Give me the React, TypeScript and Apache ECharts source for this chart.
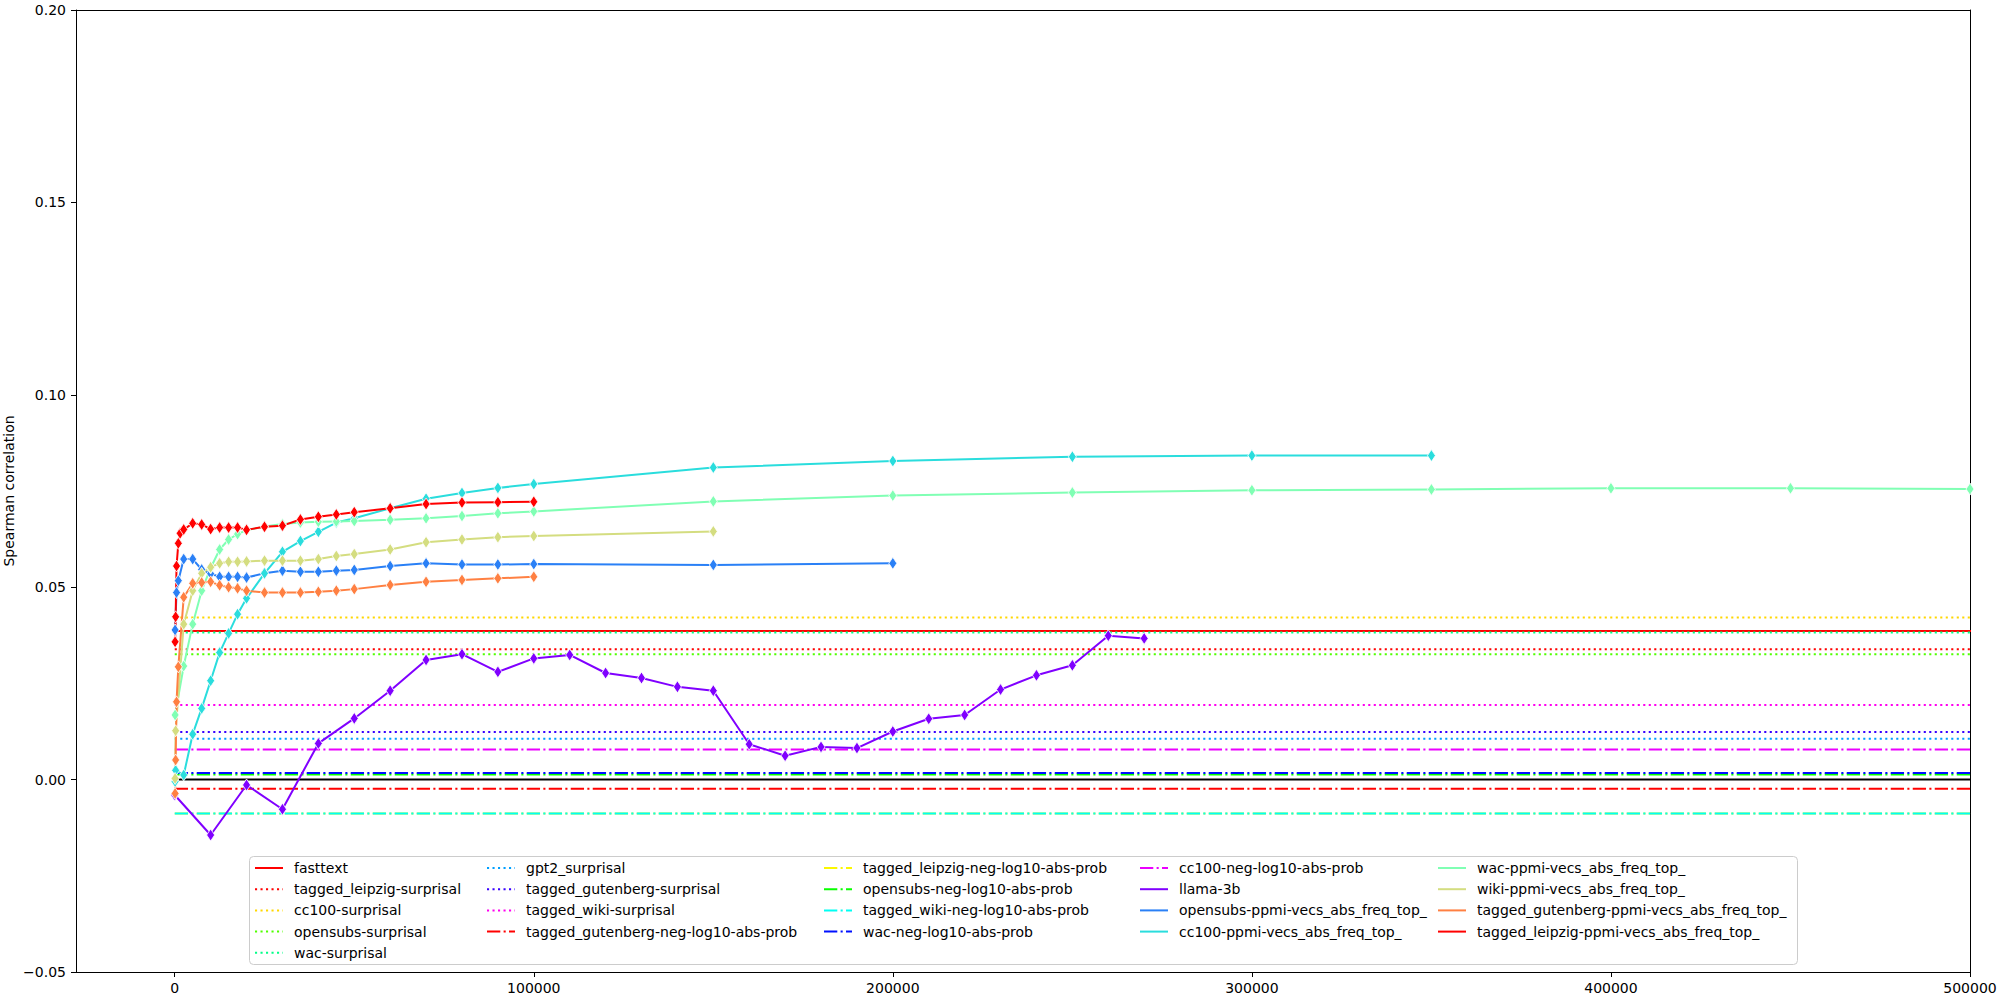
import React, { useEffect, useRef } from 'react';
import * as echarts from 'echarts';

// shared x grid for the ppmi series (null = no point at that x)
const X = [100, 250, 500, 1000, 1500, 2500, 5000, 7500, 10000, 12500, 15000, 17500, 20000, 25000, 30000, 35000, 40000, 45000, 50000, 60000, 70000, 80000, 90000, 100000, 150000, 200000, 250000, 300000, 350000, 400000, 450000, 500000, 550000];

const OPENSUBS_PPMI = [0.0389, null, 0.0486, 0.0517, null, 0.0573, 0.0573, 0.0546, 0.0535, 0.0527, 0.0527, 0.0527, 0.0525, 0.0536, 0.0543, 0.054, 0.054, 0.0543, 0.0545, 0.0555, 0.0562, 0.0559, 0.0559, 0.056, 0.0558, 0.0562, null, null, null, null, null, null, null];
const CC100_PPMI = [-0.0005, 0.0024, null, null, null, 0.0012, 0.0118, 0.0185, 0.0257, 0.033, 0.038, 0.043, 0.0471, 0.0536, 0.0592, 0.062, 0.0644, 0.0668, 0.0679, 0.0705, 0.073, 0.0745, 0.0758, 0.0768, 0.0811, 0.0828, 0.0839, 0.0842, 0.0842, null, null, null, null];
const WAC_PPMI = [0.0168, null, null, null, null, 0.0295, 0.0404, 0.0491, 0.055, 0.0598, 0.0624, 0.0638, 0.0648, 0.0658, 0.0664, 0.0668, 0.067, 0.0671, 0.0672, 0.0675, 0.0679, 0.0685, 0.0692, 0.0697, 0.0723, 0.0738, 0.0746, 0.0752, 0.0754, 0.0757, 0.0757, 0.0755, 0.0753];
const WIKI_PPMI = [0.0003, 0.0127, null, null, null, 0.0404, 0.0491, 0.0536, 0.0552, 0.0562, 0.0566, 0.0566, 0.0567, 0.0569, 0.0569, 0.0569, 0.0573, 0.0581, 0.0586, 0.0598, 0.0617, 0.0624, 0.063, 0.0633, 0.0645, null, null, null, null, null, null, null, null];
const GUTENBERG_PPMI = [-0.0036, 0.0051, 0.0202, 0.0293, null, 0.0474, 0.051, 0.0512, 0.0514, 0.0505, 0.05, 0.0497, 0.0491, 0.0486, 0.0486, 0.0486, 0.0488, 0.0491, 0.0495, 0.0506, 0.0514, 0.0519, 0.0523, 0.0527, null, null, null, null, null, null, null, null, null];
const LEIPZIG_PPMI = [0.0358, 0.0423, 0.0555, 0.0614, 0.064, 0.065, 0.0666, 0.0663, 0.0651, 0.0655, 0.0655, 0.0655, 0.0649, 0.0657, 0.066, 0.0676, 0.0683, 0.0689, 0.0695, 0.0705, 0.0716, 0.072, 0.0721, 0.0722, null, null, null, null, null, null, null, null, null];

const LLAMA_X = [0, 10000, 20000, 30000, 40000, 50000, 60000, 70000, 80000, 90000, 100000, 110000, 120000, 130000, 140000, 150000, 160000, 170000, 180000, 190000, 200000, 210000, 220000, 230000, 240000, 250000, 260000, 270000];
const LLAMA = [-0.004, -0.0144, -0.0014, -0.0077, 0.0094, 0.0159, 0.0231, 0.0311, 0.0326, 0.028, 0.0315, 0.0324, 0.0277, 0.0264, 0.0241, 0.0231, 0.0092, 0.0062, 0.0085, 0.0082, 0.0125, 0.0158, 0.0168, 0.0234, 0.0271, 0.0297, 0.0374, 0.0367];

// horizontal reference lines
const HLINE_NAMES = ['fasttext', 'tagged_leipzig-surprisal', 'cc100-surprisal', 'opensubs-surprisal', 'wac-surprisal', 'gpt2_surprisal', 'tagged_gutenberg-surprisal', 'tagged_wiki-surprisal', 'tagged_gutenberg-neg-log10-abs-prob', 'tagged_leipzig-neg-log10-abs-prob', 'opensubs-neg-log10-abs-prob', 'tagged_wiki-neg-log10-abs-prob', 'wac-neg-log10-abs-prob', 'cc100-neg-log10-abs-prob'];
const HLINE_VALUES = [0.0386, 0.0339, 0.0421, 0.0326, 0.0382, 0.0106, 0.0124, 0.0194, -0.0024, -0.0088, 0.0013, -0.0088, 0.0017, 0.0078];
const HLINE_X = [0, 550000];
const ZERO_LINE = 0;

const PPMI_NAMES = ['llama-3b', 'opensubs-ppmi-vecs_abs_freq_top_', 'cc100-ppmi-vecs_abs_freq_top_', 'wac-ppmi-vecs_abs_freq_top_', 'wiki-ppmi-vecs_abs_freq_top_', 'tagged_gutenberg-ppmi-vecs_abs_freq_top_', 'tagged_leipzig-ppmi-vecs_abs_freq_top_'];

const X_TICKS = [0, 100000, 200000, 300000, 400000, 500000];

const LEGEND_COLUMNS = [
  ['fasttext', 'tagged_leipzig-surprisal', 'cc100-surprisal', 'opensubs-surprisal', 'wac-surprisal'],
  ['gpt2_surprisal', 'tagged_gutenberg-surprisal', 'tagged_wiki-surprisal', 'tagged_gutenberg-neg-log10-abs-prob'],
  ['tagged_leipzig-neg-log10-abs-prob', 'opensubs-neg-log10-abs-prob', 'tagged_wiki-neg-log10-abs-prob', 'wac-neg-log10-abs-prob'],
  ['cc100-neg-log10-abs-prob', 'llama-3b', 'opensubs-ppmi-vecs_abs_freq_top_', 'cc100-ppmi-vecs_abs_freq_top_'],
  ['wac-ppmi-vecs_abs_freq_top_', 'wiki-ppmi-vecs_abs_freq_top_', 'tagged_gutenberg-ppmi-vecs_abs_freq_top_', 'tagged_leipzig-ppmi-vecs_abs_freq_top_'],
];

// styles
const FONT = 'DejaVu Sans';
const DOT = [2.1, 3.4];
const DASHDOT = [13.3, 3.3, 2.1, 3.3];
const HLINE_COLORS = ['#ff0000', '#ff0000', '#ffd700', '#50ff00', '#00ff87', '#009fff', '#3800ff', '#ff00ef', '#ff0000', '#fbf700', '#08ff00', '#00fff3', '#0010ff', '#eb00ff'];
const HLINE_TYPES: any[] = ['solid', DOT, DOT, DOT, DOT, DOT, DOT, DOT, DASHDOT, DASHDOT, DASHDOT, DASHDOT, DASHDOT, DASHDOT];
const PPMI_COLORS = ['#8000ff', '#2a80f6', '#2adddd', '#80ffb4', '#d4dd80', '#ff8042', '#ff0000'];
const LEGEND_LEFT = [254, 486, 823, 1139, 1437];

function pairs(xs: number[], ys: (number | null)[]) {
  const out: any[] = [];
  ys.forEach((y, i) => { if (y !== null) out.push([xs[i], y]); });
  return out;
}

export default function App() {
  const ref = useRef<HTMLDivElement>(null);
  useEffect(() => {
    if (!ref.current) return;
    const chart = echarts.init(ref.current, null, { renderer: 'svg' });
    const series: any[] = [];
    series.push({
      type: 'line', name: '__zero', data: HLINE_X.map((x) => [x, ZERO_LINE]), showSymbol: false,
      lineStyle: { color: '#000000', width: 2 }, silent: true, z: 2,
    });
    HLINE_NAMES.forEach((n, i) => {
      series.push({
        type: 'line', name: n, data: HLINE_X.map((x) => [x, HLINE_VALUES[i]]), showSymbol: false,
        lineStyle: { color: HLINE_COLORS[i], width: 2, type: HLINE_TYPES[i], cap: 'butt' },
        itemStyle: { color: HLINE_COLORS[i] }, silent: true, z: 2,
      });
    });
    const ppmiData = [pairs(LLAMA_X, LLAMA), pairs(X, OPENSUBS_PPMI), pairs(X, CC100_PPMI), pairs(X, WAC_PPMI), pairs(X, WIKI_PPMI), pairs(X, GUTENBERG_PPMI), pairs(X, LEIPZIG_PPMI)];
    PPMI_NAMES.forEach((n, i) => {
      series.push({
        type: 'line', name: n, data: ppmiData[i], showSymbol: true, showAllSymbol: true,
        symbol: 'diamond', symbolSize: [8, 12],
        lineStyle: { color: PPMI_COLORS[i], width: 2 },
        itemStyle: { color: PPMI_COLORS[i], borderColor: '#ffffff', borderWidth: 0.8 },
        silent: true, z: 3,
      });
    });
    const legends = LEGEND_COLUMNS.map((col, i) => ({
      data: col, orient: 'vertical', left: LEGEND_LEFT[i], top: 861, padding: 0,
      itemWidth: 28, itemHeight: 14, itemGap: 7.2, selectedMode: false,
      itemStyle: { opacity: 0 },
      textStyle: { fontFamily: FONT, fontSize: 14, color: '#000', padding: [0, 0, 0, 6] },
      z: 5,
    }));
    const axisCommon = {
      axisLine: { show: true, onZero: false, lineStyle: { color: '#000', width: 1 } },
      splitLine: { show: false },
    };
    chart.setOption({
      animation: false,
      backgroundColor: '#ffffff',
      grid: { left: 76, right: 30, top: 10, bottom: 28, containLabel: false, outerBoundsMode: 'none' },
      xAxis: [
        {
          type: 'value', min: -27500, max: 500000, ...axisCommon,
          axisTick: { show: true, length: 5, lineStyle: { color: '#000', width: 1 }, customValues: X_TICKS },
          axisLabel: { show: true, margin: 9, fontFamily: FONT, fontSize: 14, color: '#000', customValues: X_TICKS, formatter: (v: number) => String(v) },
        },
        { type: 'value', position: 'top', min: -27500, max: 500000, ...axisCommon, axisTick: { show: false }, axisLabel: { show: false } },
      ],
      yAxis: [
        {
          type: 'value', min: -0.05, max: 0.2, interval: 0.05, ...axisCommon,
          axisTick: { show: true, length: 5, lineStyle: { color: '#000', width: 1 } },
          axisLabel: {
            margin: 10, fontFamily: FONT, fontSize: 14, color: '#000',
            formatter: (v: number) => (v < -1e-9 ? '\u2212' + Math.abs(v).toFixed(2) : Math.abs(v).toFixed(2)),
          },
          name: 'Spearman correlation', nameLocation: 'middle', nameGap: 60, nameMoveOverlap: false,
          nameTextStyle: { fontFamily: FONT, fontSize: 14, color: '#000' },
        },
        { type: 'value', position: 'right', min: -0.05, max: 0.2, interval: 0.05, ...axisCommon, axisTick: { show: false }, axisLabel: { show: false } },
      ],
      legend: legends,
      graphic: [
        {
          type: 'rect', left: 249, top: 856, z: 4, silent: true,
          shape: { width: 1548, height: 108, r: 4 },
          style: { fill: 'rgba(255,255,255,0.8)', stroke: '#cccccc', lineWidth: 1 },
        },
      ],
      series,
    });
    return () => chart.dispose();
  }, []);
  return <div ref={ref} style={{ position: 'fixed', left: 0, top: 0, width: 2000, height: 1000 }} />;
}
